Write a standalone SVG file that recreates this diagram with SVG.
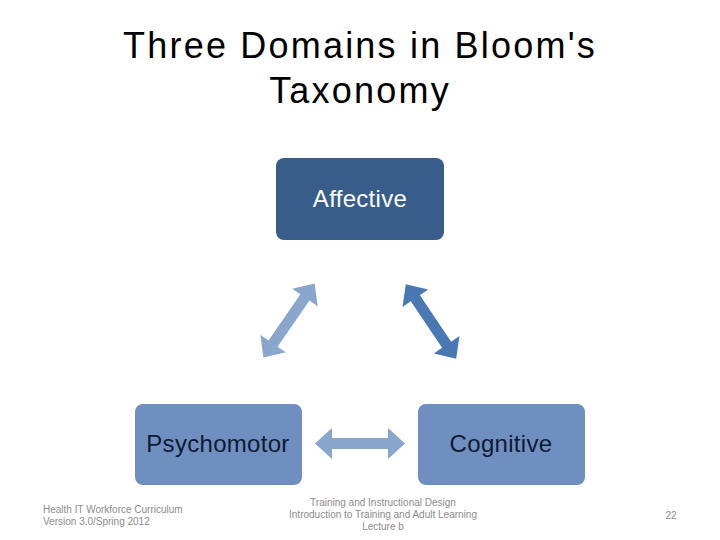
<svg xmlns="http://www.w3.org/2000/svg" width="720" height="540" viewBox="0 0 720 540">
<style>
.title{font-family:"Liberation Sans",Arial,sans-serif;font-size:36px;fill:#000;text-anchor:middle;letter-spacing:2.2px}
.lbl{font-family:"Liberation Sans",Arial,sans-serif;font-size:24px;text-anchor:middle;letter-spacing:0.3px}
.foot{font-family:"Liberation Sans",Arial,sans-serif;font-size:10px;fill:#8c8c8c}
</style>
<defs>
<polygon id="darr" points="-45,0 -28,-15.5 -28,-5.5 28,-5.5 28,-15.5 45,0 28,15.5 28,5.5 -28,5.5 -28,15.5"/>
</defs>
<rect width="720" height="540" fill="#fff"/>
<text class="title" x="360" y="58">Three Domains in Bloom's</text>
<text class="title" x="360" y="103">Taxonomy</text>
<g id="affective">
<rect x="276" y="158" width="168" height="82" rx="8" fill="#385d8a"/>
<text class="lbl" x="360" y="207" fill="#fff">Affective</text>
</g>
<g id="psychomotor">
<rect x="135" y="404" width="167" height="81" rx="8" fill="#6f8fc0"/>
<text class="lbl" x="218" y="452" fill="#0f1a33">Psychomotor</text>
</g>
<g id="cognitive">
<rect x="418" y="404" width="167" height="81" rx="8" fill="#6f8fc0"/>
<text class="lbl" x="501" y="452" fill="#0f1a33">Cognitive</text>
</g>
<g id="connectors">
<use href="#darr" transform="translate(289,320.5) rotate(-55.3)" fill="#8ba6cc"/>
<use href="#darr" transform="translate(431,321.5) rotate(56)" fill="#4a78b5"/>
<use href="#darr" transform="translate(360,443.5)" fill="#8ba6cc"/>
</g>
<text class="foot" x="43" y="513">Health IT Workforce Curriculum</text>
<text class="foot" x="43" y="525">Version 3.0/Spring 2012</text>
<text class="foot" x="383" y="506" text-anchor="middle" font-size="9.5">Training and Instructional Design</text>
<text class="foot" x="383" y="518" text-anchor="middle" font-size="9.5">Introduction to Training and Adult Learning</text>
<text class="foot" x="383" y="530" text-anchor="middle" font-size="9.5">Lecture b</text>
<text class="foot" x="671" y="519" text-anchor="middle">22</text>
</svg>
